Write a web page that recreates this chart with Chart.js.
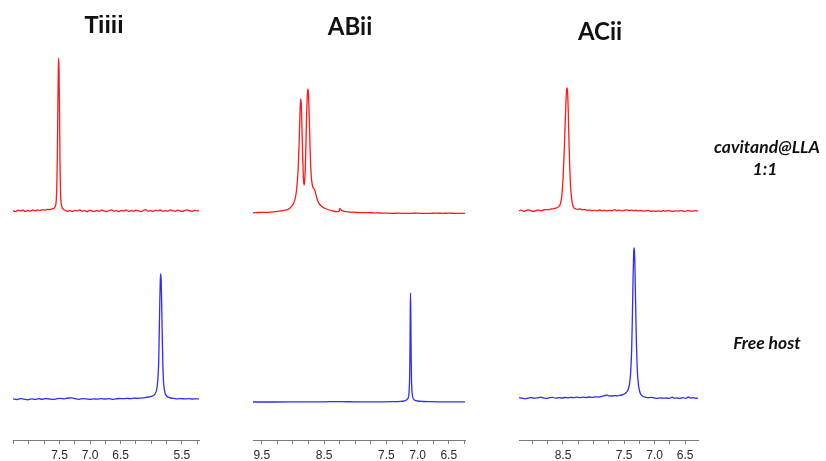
<!DOCTYPE html>
<html>
<head>
<meta charset="utf-8">
<script src="https://cdn.jsdelivr.net/npm/chart.js@4.4.1/dist/chart.umd.min.js"></script>
<style>
  html, body { margin: 0; padding: 0; background: #fff; }
  #wrap { position: relative; width: 826px; height: 461px; overflow: hidden; }
  #wrap canvas { position: absolute; left: 0; top: 0; }
  .ttl { position: absolute; font-weight: bold; color: #111; white-space: nowrap; line-height: 1; transform: translateX(-50%); }
  .side { position: absolute; font: italic bold 17.5px Lato, sans-serif; color: #111; white-space: nowrap; line-height: 1; transform: translateX(-50%); }
</style>
</head>
<body>
<div id="wrap">
  <canvas id="cTiiii" width="826" height="461"></canvas>
  <canvas id="cABii" width="826" height="461"></canvas>
  <canvas id="cACii" width="826" height="461"></canvas>
  <div class="ttl" style="left:104px; top:14px; font-family:'Liberation Sans', Arial, sans-serif; font-size:23px;">Tiiii</div>
  <div class="ttl" style="left:350px; top:14px; font-family:Lato, sans-serif; font-size:24px;">ABii</div>
  <div class="ttl" style="left:600px; top:19px; font-family:Lato, sans-serif; font-size:24px;">ACii</div>
  <div class="side" style="left:767px; top:138px;">cavitand@LLA</div>
  <div class="side" style="left:765px; top:160px;">1:1</div>
  <div class="side" style="left:767px; top:334px;">Free host</div>
</div>
<script>
// ---- chemical-shift axes (ppm) ----
const tiiiiRange = [5.22, 8.26];
const abiiRange  = [6.24, 9.64];
const aciiRange  = [6.29, 9.22];

const tiiiiTickLabels = ['7.5', '7.0', '6.5', '5.5'];
const abiiTickLabels  = ['9.5', '8.5', '7.5', '7.0', '6.5'];
const aciiTickLabels  = ['8.5', '7.5', '7.0', '6.5'];

// ---- Tiiii: cavitand@LLA 1:1 ----
const tiiiiBoundPpm = [8.26, 8.22, 8.18, 8.14, 8.10, 8.06, 8.02, 7.98, 7.94, 7.90, 7.86, 7.82, 7.78, 7.74, 7.70, 7.66, 7.62, 7.59, 7.57, 7.555, 7.545, 7.535, 7.527, 7.520, 7.514, 7.508, 7.500, 7.492, 7.484, 7.475, 7.46, 7.44, 7.41, 7.37, 7.33, 7.29, 7.25, 7.21, 7.17, 7.13, 7.09, 7.05, 7.01, 6.97, 6.93, 6.89, 6.85, 6.81, 6.77, 6.73, 6.69, 6.65, 6.61, 6.57, 6.53, 6.49, 6.45, 6.41, 6.37, 6.33, 6.29, 6.25, 6.21, 6.17, 6.13, 6.09, 6.05, 6.01, 5.97, 5.93, 5.89, 5.85, 5.81, 5.77, 5.73, 5.69, 5.65, 5.61, 5.57, 5.53, 5.49, 5.45, 5.41, 5.37, 5.33, 5.29, 5.25, 5.22];
const tiiiiBoundInt = [0.3, -0.6, 0.8, 0.1, 1.0, -0.4, 0.5, -0.2, 0.9, 0.2, 1.1, 0.4, 1.3, 0.8, 1.6, 1.4, 2.2, 2.8, 4.5, 9, 22, 55, 105, 140, 153, 142, 100, 50, 20, 9, 4, 2, 0.8, -0.3, 0.6, -0.5, 0.7, 0.1, 1.0, -0.2, 0.4, -0.6, 0.8, 0.0, -0.5, 0.6, -0.3, 0.9, 0.2, -0.7, 0.5, 1.1, -0.2, 0.4, -0.6, 0.7, 0.0, 1.2, -0.4, 0.5, -0.3, 0.9, 0.1, -0.6, 0.6, 1.3, -0.1, 0.5, -0.5, 0.8, 0.2, 1.0, -0.3, 0.4, -0.2, 1.1, 0.3, -0.4, 0.9, 0.2, -0.5, 0.7, 1.2, 0.1, -0.3, 0.8, 0.2, 0.5];

// ---- Tiiii: free host ----
const tiiiiFreePpm = [8.26, 8.20, 8.14, 8.08, 8.02, 7.96, 7.90, 7.84, 7.78, 7.72, 7.66, 7.60, 7.54, 7.48, 7.42, 7.36, 7.30, 7.24, 7.18, 7.12, 7.06, 7.00, 6.94, 6.88, 6.82, 6.76, 6.70, 6.64, 6.58, 6.52, 6.46, 6.40, 6.34, 6.28, 6.22, 6.16, 6.10, 6.04, 6.00, 5.96, 5.93, 5.91, 5.895, 5.88, 5.87, 5.86, 5.852, 5.845, 5.838, 5.83, 5.82, 5.81, 5.80, 5.785, 5.77, 5.75, 5.72, 5.68, 5.63, 5.57, 5.51, 5.45, 5.39, 5.33, 5.27, 5.22];
const tiiiiFreeInt = [0.2, -0.5, 0.4, -0.2, -0.8, 0.1, -0.4, 0.3, -0.3, 0.5, 0.0, -0.4, 0.3, 0.6, 0.1, 1.0, 1.1, 0.2, -0.3, 0.4, 0.1, -0.4, 0.2, -0.2, 0.3, 0.0, 0.4, -0.3, 0.2, 0.5, 0.3, 0.6, 0.4, 0.8, 0.7, 1.1, 1.4, 2.0, 2.6, 3.8, 6, 10, 18, 35, 65, 100, 120, 125, 118, 95, 60, 32, 17, 9, 5, 3, 1.8, 1.0, 0.6, 0.2, 0.4, 0.1, 0.3, 0.0, 0.2, 0.1];

// ---- ABii: cavitand@LLA 1:1 ----
const abiiBoundPpm = [9.64, 9.55, 9.45, 9.35, 9.28, 9.22, 9.16, 9.10, 9.05, 9.01, 8.98, 8.955, 8.935, 8.915, 8.90, 8.888, 8.878, 8.872, 8.864, 8.855, 8.845, 8.835, 8.826, 8.818, 8.81, 8.80, 8.79, 8.78, 8.77, 8.762, 8.756, 8.748, 8.738, 8.727, 8.715, 8.70, 8.685, 8.665, 8.645, 8.625, 8.60, 8.57, 8.53, 8.48, 8.42, 8.36, 8.30, 8.265, 8.252, 8.245, 8.235, 8.22, 8.18, 8.12, 8.04, 7.96, 7.88, 7.80, 7.70, 7.60, 7.50, 7.40, 7.30, 7.20, 7.10, 7.00, 6.90, 6.80, 6.70, 6.60, 6.50, 6.40, 6.24];
const abiiBoundInt = [0.3, 0.5, 0.6, 0.9, 1.3, 1.9, 2.4, 3.2, 4.8, 7.5, 11, 17, 27, 45, 70, 98, 112, 114, 106, 85, 60, 40, 30, 28, 33, 48, 72, 98, 116, 123, 124, 116, 96, 70, 47, 33, 27, 24.5, 22, 17, 12, 8.5, 6.3, 4.5, 3.0, 2.1, 1.4, 1.3, 3.5, 4.7, 3.5, 2.6, 1.6, 1.2, 0.8, 0.5, 0.3, 0.4, 0.1, 0.0, -0.2, -0.3, -0.2, -0.4, -0.3, -0.2, -0.4, -0.3, -0.2, -0.3, -0.2, -0.3, -0.3];

// ---- ABii: free host ----
const abiiFreePpm = [9.64, 9.30, 8.90, 8.50, 8.22, 8.00, 7.60, 7.40, 7.28, 7.22, 7.185, 7.16, 7.145, 7.136, 7.128, 7.122, 7.118, 7.114, 7.110, 7.105, 7.099, 7.091, 7.08, 7.065, 7.045, 7.00, 6.92, 6.80, 6.60, 6.40, 6.24];
const abiiFreeInt = [0, 0, 0.1, 0.2, 0.4, 0.1, 0.2, 0.3, 0.6, 1.0, 1.8, 3.2, 5.5, 11, 25, 55, 90, 109, 92, 55, 25, 11, 5.5, 3.0, 1.8, 1.0, 0.5, 0.3, 0.2, 0.1, 0.1];

// ---- ACii: cavitand@LLA 1:1 ----
const aciiBoundPpm = [9.22, 9.18, 9.14, 9.10, 9.06, 9.02, 8.98, 8.94, 8.90, 8.86, 8.82, 8.78, 8.74, 8.70, 8.66, 8.62, 8.59, 8.56, 8.535, 8.515, 8.495, 8.478, 8.463, 8.450, 8.440, 8.432, 8.424, 8.414, 8.402, 8.388, 8.373, 8.358, 8.34, 8.32, 8.29, 8.26, 8.22, 8.18, 8.14, 8.10, 8.06, 8.02, 7.98, 7.94, 7.90, 7.86, 7.82, 7.78, 7.74, 7.70, 7.66, 7.62, 7.58, 7.54, 7.50, 7.46, 7.42, 7.38, 7.34, 7.30, 7.26, 7.22, 7.18, 7.14, 7.10, 7.06, 7.02, 6.98, 6.94, 6.90, 6.86, 6.82, 6.78, 6.74, 6.70, 6.66, 6.62, 6.58, 6.54, 6.50, 6.46, 6.42, 6.38, 6.34, 6.29];
const aciiBoundInt = [0.2, 0.9, -0.3, 0.6, 1.2, 0.1, -0.4, 0.5, 0.9, 0.2, 1.0, 1.4, 1.2, 1.8, 2.4, 2.8, 3.5, 5, 9, 18, 38, 62, 90, 112, 122, 123, 118, 100, 70, 42, 22, 12, 6, 3.2, 2.0, 1.6, 2.0, 1.2, 1.5, 0.7, 0.9, 0.3, 0.8, 0.2, 1.0, 0.4, 0.6, 0.1, 0.7, 0.3, 1.3, 0.4, 0.8, 0.2, 0.6, 1.1, 0.5, 0.9, 0.3, 0.7, 0.1, 0.5, -0.2, 0.3, 0.6, -0.3, 0.2, -0.5, 0.1, -0.4, 0.3, -0.2, 0.4, 0.0, -0.3, 0.2, -0.1, 0.4, 0.0, -0.3, 0.3, 0.1, -0.2, 0.3, 0.1];

// ---- ACii: free host ----
const aciiFreePpm = [9.22, 9.17, 9.12, 9.07, 9.02, 8.97, 8.92, 8.87, 8.82, 8.77, 8.72, 8.67, 8.62, 8.57, 8.52, 8.47, 8.42, 8.37, 8.32, 8.27, 8.22, 8.17, 8.12, 8.07, 8.02, 7.97, 7.92, 7.87, 7.82, 7.78, 7.74, 7.70, 7.66, 7.62, 7.58, 7.54, 7.51, 7.48, 7.45, 7.425, 7.405, 7.39, 7.375, 7.363, 7.352, 7.343, 7.336, 7.329, 7.32, 7.31, 7.298, 7.285, 7.27, 7.25, 7.23, 7.20, 7.16, 7.11, 7.06, 7.01, 6.96, 6.91, 6.86, 6.81, 6.76, 6.71, 6.68, 6.64, 6.59, 6.54, 6.49, 6.45, 6.41, 6.37, 6.33, 6.29];
const aciiFreeInt = [0.3, -0.2, -0.8, -0.1, 0.5, -0.3, 0.2, 0.8, 0.1, -0.4, 0.3, 0.6, -0.1, 0.4, 0.0, 0.5, 0.2, 0.7, 0.3, 0.9, 0.4, 0.8, 0.5, 1.0, 0.6, 1.2, 0.9, 1.6, 2.4, 2.8, 2.1, 2.0, 2.4, 2.2, 2.6, 3.0, 3.6, 4.8, 6.5, 10, 17, 28, 50, 85, 122, 145, 150, 146, 125, 90, 55, 30, 16, 8, 4, 2, 1.0, 0.3, 0.6, 0.1, -0.3, 0.2, -0.2, 0.0, -0.4, 0.9, -0.2, 0.1, -0.4, 0.3, -0.3, 1.0, -0.2, 0.4, -0.3, 0.2];

// ---- drawing ----
const BOUND_COLOR = 'rgb(255, 25, 25)';
const FREE_COLOR = 'rgb(45, 45, 255)';
const PAGE_W = 826;
const AXIS_Y = 440;      // pixel row of the ppm axis line
const PLOT_TOP = 40;     // pixel row of intensity 400

function trace(ppm, intensity, lift) {
  return ppm.map((p, i) => ({ x: p, y: intensity[i] + lift }));
}

function drawPanel(canvasId, range, tickLabels, bound, free, leftPx, rightPx) {
  const shown = tickLabels.map(Number);
  new Chart(document.getElementById(canvasId), {
    type: 'line',
    data: {
      datasets: [
        { data: trace(bound.ppm, bound.int, bound.lift), borderColor: BOUND_COLOR },
        { data: trace(free.ppm, free.int, free.lift), borderColor: FREE_COLOR }
      ]
    },
    options: {
      responsive: false,
      animation: false,
      events: [],
      layout: { padding: { left: leftPx, right: PAGE_W - rightPx, top: PLOT_TOP, bottom: 0 } },
      plugins: { legend: { display: false }, tooltip: { enabled: false } },
      elements: {
        point: { radius: 0 },
        line: { borderWidth: 1.3, cubicInterpolationMode: 'monotone', fill: false }
      },
      scales: {
        x: {
          type: 'linear',
          reverse: true,
          min: range[0],
          max: range[1],
          afterFit(scale) { scale.height = 461 - AXIS_Y; },
          border: { display: true, color: '#7a7a7a', width: 1 },
          grid: { display: true, drawOnChartArea: false, drawTicks: true, tickLength: 4, color: '#7a7a7a' },
          ticks: {
            stepSize: 0.25,
            includeBounds: false,
            autoSkip: false,
            maxRotation: 0,
            padding: 4,
            color: '#2a2a2a',
            font: { family: "'Liberation Sans', Arial, sans-serif", size: 12 },
            callback(value) {
              const k = shown.findIndex(t => Math.abs(t - value) < 1e-6);
              return k < 0 ? '' : tickLabels[k];
            }
          }
        },
        y: { display: false, min: 0, max: AXIS_Y - PLOT_TOP }
      }
    }
  });
}

drawPanel('cTiiii', tiiiiRange, tiiiiTickLabels,
  { ppm: tiiiiBoundPpm, int: tiiiiBoundInt, lift: 229 },
  { ppm: tiiiiFreePpm, int: tiiiiFreeInt, lift: 41 }, 13, 199);

drawPanel('cABii', abiiRange, abiiTickLabels,
  { ppm: abiiBoundPpm, int: abiiBoundInt, lift: 227 },
  { ppm: abiiFreePpm, int: abiiFreeInt, lift: 38 }, 253, 465);

drawPanel('cACii', aciiRange, aciiTickLabels,
  { ppm: aciiBoundPpm, int: aciiBoundInt, lift: 229 },
  { ppm: aciiFreePpm, int: aciiFreeInt, lift: 42 }, 519, 698);
</script>
</body>
</html>
